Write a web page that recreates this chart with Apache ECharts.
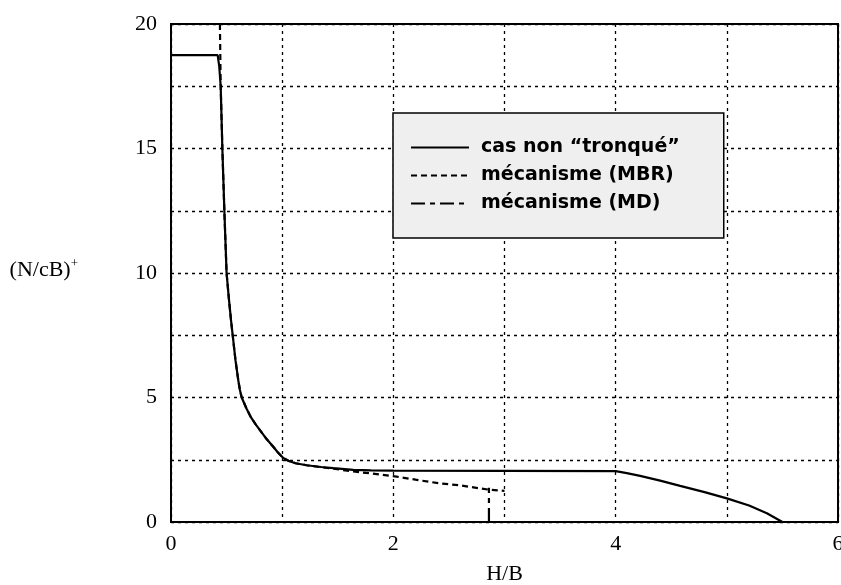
<!DOCTYPE html>
<html>
<head>
<meta charset="utf-8">
<script src="https://cdn.jsdelivr.net/npm/echarts@6/dist/echarts.min.js"></script>
<style>
html,body{margin:0;padding:0;background:#fff;}
#chart{width:841px;height:585px;}
</style>
</head>
<body>
<div id="chart"></div>
<script>
// ---- data ----
var seriesNames = ['cas non “tronqué”', 'mécanisme (MBR)', 'mécanisme (MD)'];
var xTicks = [0, 2, 4, 6];
var yTicks = [0, 5, 10, 15, 20];

// solid curve: [H/B, (N/cB)+]
var casNonTronque = [
  [0, 18.75], [0.42, 18.75], [0.434, 18.3], [0.447, 17.5], [0.462, 15],
  [0.48, 12.5], [0.50, 10], [0.52, 9.0], [0.54, 8.1], [0.555, 7.5],
  [0.58, 6.5], [0.605, 5.7], [0.62, 5.3], [0.636, 5.0], [0.68, 4.55],
  [0.72, 4.2], [0.76, 3.93], [0.80, 3.69], [0.86, 3.33], [0.92, 3.02],
  [0.96, 2.8], [1.01, 2.57], [1.06, 2.45], [1.12, 2.36], [1.22, 2.28],
  [1.35, 2.21], [1.46, 2.16], [1.64, 2.09], [1.8, 2.07], [2.0, 2.06],
  [3.0, 2.05], [4.0, 2.04], [4.1, 1.96], [4.22, 1.85], [4.4, 1.66],
  [4.58, 1.45], [4.8, 1.2], [5.0, 0.95], [5.2, 0.66], [5.36, 0.35],
  [5.5, 0]
];
// dashed curve (MBR)
var mecanismeMBR = [
  [0.44, 20], [0.447, 17.5], [0.462, 15], [0.48, 12.5], [0.50, 10],
  [0.52, 9.0], [0.54, 8.1], [0.555, 7.5], [0.58, 6.5], [0.605, 5.7],
  [0.62, 5.3], [0.636, 5.0], [0.68, 4.55], [0.72, 4.2], [0.76, 3.93],
  [0.80, 3.69], [0.86, 3.33], [0.92, 3.02], [0.96, 2.8], [1.01, 2.57],
  [1.06, 2.45], [1.12, 2.36], [1.22, 2.28], [1.35, 2.2], [1.46, 2.14],
  [1.64, 2.03], [1.8, 1.95], [2.03, 1.82], [2.2, 1.7], [2.42, 1.55],
  [2.60, 1.47], [2.78, 1.35], [2.86, 1.3], [3.0, 1.25]
];
// long/short dashed (MD)
var mecanismeMD = [
  [2.86, 0], [2.86, 1.38]
];

var chart = echarts.init(document.getElementById('chart'), null, {renderer: 'canvas'});
var serif = '"Liberation Serif", "Times New Roman", serif';
var sans = '"DejaVu Sans", sans-serif';

var option = {
  backgroundColor: '#ffffff',
  animation: false,
  color: ['#000', '#000', '#000'],
  grid: {
    left: 171, right: 3, top: 24, bottom: 63,
    outerBoundsMode: 'none', containLabel: false,
    show: true, borderColor: '#000', borderWidth: 2, backgroundColor: 'transparent'
  },
  legend: {
    orient: 'vertical',
    left: 393, top: 113,
    padding: [24, 44, 24, 17],
    itemGap: 7,
    itemWidth: 58, itemHeight: 14,
    backgroundColor: '#efefef',
    borderColor: '#000', borderWidth: 1.5,
    itemStyle: { opacity: 0 },
    textStyle: { fontFamily: sans, fontSize: 19, fontWeight: 'bold', color: '#000', lineHeight: 21, padding: [0, 0, 0, 7] },
    data: seriesNames
  },
  xAxis: {
    type: 'value', min: 0, max: 6, interval: 1,
    name: 'H/B', nameLocation: 'middle', nameGap: 41,
    nameTextStyle: { fontFamily: serif, fontSize: 22, color: '#000' },
    axisLine: { show: false }, axisTick: { show: false },
    axisLabel: {
      margin: 11, fontFamily: serif, fontSize: 22, color: '#000',
      formatter: function (v) { return xTicks.indexOf(v) >= 0 ? String(v) : ''; }
    },
    splitLine: { show: true, lineStyle: { color: '#000', width: 1.3, type: [3, 4] } }
  },
  yAxis: {
    type: 'value', min: 0, max: 20, interval: 2.5,
    name: '{a|(N/cB)}{s|+}', nameLocation: 'middle', nameRotate: 0, nameGap: 93,
    nameTextStyle: {
      fontFamily: serif, fontSize: 22, color: '#000', padding: [0, 0, 6, 0],
      rich: {
        a: { fontFamily: serif, fontSize: 22, color: '#000' },
        s: { fontFamily: serif, fontSize: 13, color: '#000', verticalAlign: 'top', padding: [0, 0, 12, 0] }
      }
    },
    axisLine: { show: false }, axisTick: { show: false },
    axisLabel: {
      margin: 14, fontFamily: serif, fontSize: 22, color: '#000',
      formatter: function (v) { return yTicks.indexOf(v) >= 0 ? String(v) : ''; }
    },
    splitLine: { show: true, lineStyle: { color: '#000', width: 1.3, type: [3, 4] } }
  },
  series: [
    {
      name: seriesNames[0], type: 'line', data: casNonTronque,
      symbol: 'none', showSymbol: false, z: 3,
      itemStyle: { color: '#000' },
      lineStyle: { color: '#000', width: 2.2, type: 'solid' }
    },
    {
      name: seriesNames[1], type: 'line', data: mecanismeMBR,
      symbol: 'none', showSymbol: false, z: 4,
      itemStyle: { color: '#000' },
      lineStyle: { color: '#000', width: 2.2, type: [6, 4] }
    },
    {
      name: seriesNames[2], type: 'line', data: mecanismeMD,
      symbol: 'none', showSymbol: false, z: 4,
      itemStyle: { color: '#000' },
      lineStyle: { color: '#000', width: 2.2, type: [14, 5, 5, 5] }
    }
  ]
};
chart.setOption(option);
</script>
</body>
</html>
